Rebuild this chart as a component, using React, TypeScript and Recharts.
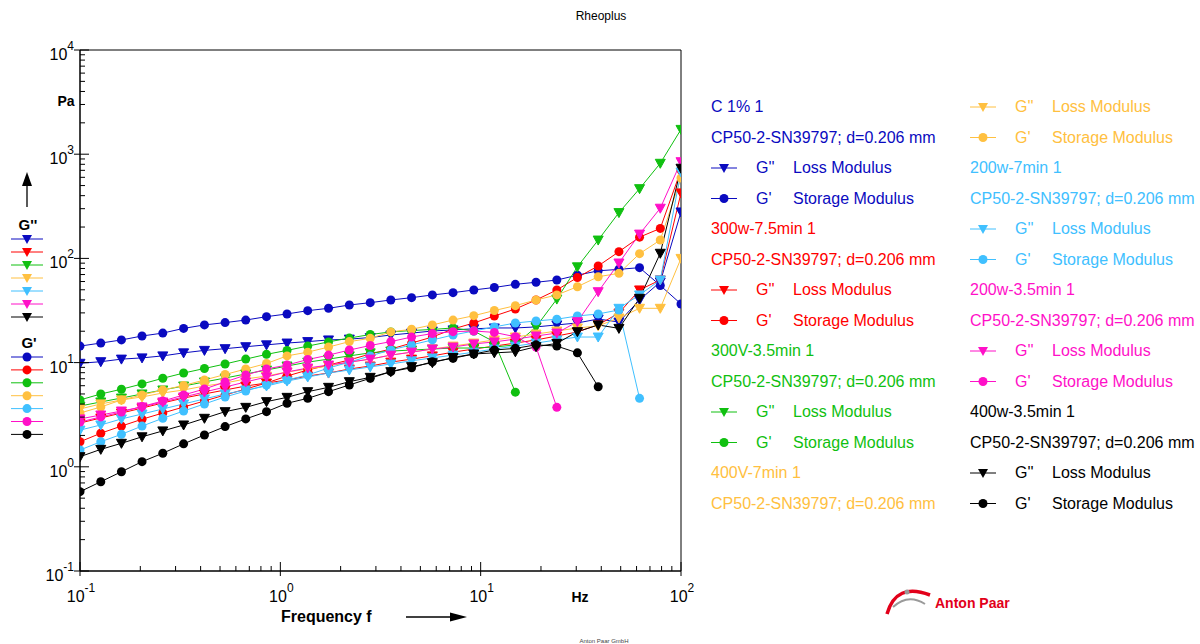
import React from "react";
import { LineChart, Line, XAxis, YAxis, ReferenceArea } from "recharts";

// frequency sweep, 30 points from 0.1 to 100 Hz
const freq = [
  0.1, 0.127, 0.161, 0.204, 0.259, 0.329, 0.418, 0.53, 0.672, 0.853,
  1.08, 1.37, 1.74, 2.21, 2.81, 3.56, 4.52, 5.74, 7.28, 9.24,
  11.7, 14.9, 18.9, 24.0, 30.4, 38.6, 49.0, 62.1, 78.8, 100,
];

// G'' loss / G' storage modulus in Pa, per sample
const blueLoss = [9.85, 10.2, 10.8, 11.1, 11.6, 12.4, 13.1, 13.6, 14.2, 14.8, 15.4, 15.9, 16.5, 16.8, 17.4, 18.4, 19.2, 20.1, 20.6, 21.1, 21.5, 21.5, 22.0, 23.0, 24.0, 26.2, 24.5, 39.9, 59.4, 279];
const blueStorage = [14.4, 15.4, 16.5, 18.0, 19.2, 21.3, 23.0, 24.2, 25.6, 27.6, 29.3, 31.5, 33.2, 35.7, 37.6, 39.9, 42.0, 44.6, 46.9, 49.8, 52.6, 56.4, 59.0, 62.0, 69.0, 76.0, 78.5, 81.5, 55.0, 36.5];

const redLoss = [2.63, 2.94, 3.28, 3.66, 4.1, 4.57, 5.0, 5.46, 5.96, 6.37, 6.81, 7.43, 7.94, 8.68, 9.27, 10.1, 10.8, 11.6, 12.6, 13.5, 14.4, 15.4, 16.5, 18.0, 19.7, 23.0, 29.9, 49.8, 62.1, 425];
const redStorage = [1.74, 2.1, 2.46, 2.86, 3.28, 3.75, 4.28, 4.89, 5.58, 6.37, 7.43, 8.49, 9.48, 10.6, 12.1, 13.5, 15.4, 17.6, 21.0, 24.0, 28.0, 32.7, 39.9, 49.8, 65.6, 84.6, 116, 160, 194, 705];

const greenLoss = [3.83, 4.19, 4.57, 5.0, 5.46, 5.96, 6.52, 7.11, 7.78, 8.49, 9.27, 10.1, 10.8, 11.6, 12.4, 12.9, 13.2, 13.5, 13.8, 13.8, 14.1, 14.8, 22.0, 40.7, 83, 150, 275, 467, 818, 1730];
const greenStorage = [4.38, 5.0, 5.55, 6.24, 7.07, 7.94, 8.78, 9.7, 10.8, 12.0, 13.1, 14.4, 15.8, 17.2, 18.6, 19.7, 20.3, 20.8, 21.5, 20.1, 15.8, 5.2, null, null, null, null, null, null, null, null];

const orangeLoss = [3.59, 4.01, 4.38, 4.68, 5.11, 5.46, 5.96, 6.37, 6.97, 7.43, 8.13, 8.68, 9.27, 10.1, 10.8, 11.8, 12.6, 13.5, 14.4, 15.4, 16.5, 17.6, 18.8, 20.1, 21.5, 22.5, 26.8, 33.2, 33.2, 100];
const orangeStorage = [3.28, 3.75, 4.38, 4.89, 5.46, 6.03, 6.81, 7.69, 8.68, 9.8, 11.6, 12.6, 14.1, 15.9, 17.1, 19.7, 20.9, 23.0, 25.6, 28.2, 31.6, 35.2, 39.9, 44.6, 53.5, 66.7, 71.9, 111, 150, 591];

const lightBlueLoss = [2.25, 2.52, 2.88, 3.21, 3.59, 4.01, 4.48, 5.0, 5.46, 5.96, 6.65, 7.27, 7.94, 8.49, 9.08, 9.7, 10.4, 11.1, 11.8, 12.6, 13.5, 14.4, 15.4, 16.5, 17.6, 17.6, 33.2, 44.6, 62.1, 675];
const lightBlueStorage = [1.45, 1.74, 2.05, 2.46, 2.92, 3.43, 4.01, 4.68, 5.34, 6.1, 6.81, 7.6, 8.87, 10.1, 11.6, 13.2, 14.8, 16.5, 18.4, 20.1, 22.0, 24.0, 25.1, 26.1, 28.0, 29.3, 32.0, 4.54, null, null];

const magentaLoss = [2.88, 3.14, 3.43, 3.75, 4.19, 4.68, 5.22, 5.83, 6.52, 7.27, 8.13, 8.87, 9.48, 10.1, 10.8, 11.8, 12.6, 13.5, 14.1, 15.1, 15.8, 16.8, 18.0, 19.2, 24.7, 47.9, 90.3, 171, 303, 847];
const magentaStorage = [2.69, 3.01, 3.36, 3.79, 4.28, 4.89, 5.58, 6.52, 7.6, 8.68, 9.48, 10.7, 11.8, 13.2, 14.6, 15.9, 17.6, 19.0, 19.8, 20.1, 19.5, 17.7, 14.1, 3.72, null, null, null, null, null, null];

const blackLoss = [1.25, 1.47, 1.68, 1.94, 2.21, 2.52, 2.92, 3.38, 3.72, 4.22, 4.64, 5.26, 5.79, 6.56, 7.22, 8.18, 9.14, 9.98, 11.2, 12.1, 12.4, 12.7, 14.2, 15.3, 19.8, 23.0, 21.3, 41.4, 112, 733];
const blackStorage = [0.577, 0.719, 0.897, 1.12, 1.35, 1.66, 2.02, 2.43, 2.88, 3.38, 4.07, 4.54, 5.26, 6.1, 7.07, 8.18, 8.93, 10.2, 11.0, 12.1, 13.2, 13.7, 14.8, 14.4, 12.4, 5.87, null, null, null, null];

const samples = [
  { name: "C 1% 1", color: "#0A0AC0", loss: blueLoss, storage: blueStorage },
  { name: "300w-7.5min 1", color: "#FF0000", loss: redLoss, storage: redStorage },
  { name: "300V-3.5min 1", color: "#10C010", loss: greenLoss, storage: greenStorage },
  { name: "400V-7min 1", color: "#FFC040", loss: orangeLoss, storage: orangeStorage },
  { name: "200w-7min 1", color: "#40C0FF", loss: lightBlueLoss, storage: lightBlueStorage },
  { name: "200w-3.5min 1", color: "#FF10C8", loss: magentaLoss, storage: magentaStorage },
  { name: "400w-3.5min 1", color: "#000000", loss: blackLoss, storage: blackStorage },
];

const probe = "CP50-2-SN39797; d=0.206 mm";

const xTicks = [
  0.1, 0.2, 0.3, 0.4, 0.5, 0.6, 0.7, 0.8, 0.9,
  1, 2, 3, 4, 5, 6, 7, 8, 9,
  10, 20, 30, 40, 50, 60, 70, 80, 90, 100,
];
const yTicks = [
  0.1, 0.2, 0.3, 0.4, 0.5, 0.6, 0.7, 0.8, 0.9,
  1, 2, 3, 4, 5, 6, 7, 8, 9,
  10, 20, 30, 40, 50, 60, 70, 80, 90,
  100, 200, 300, 400, 500, 600, 700, 800, 900,
  1000, 2000, 3000, 4000, 5000, 6000, 7000, 8000, 9000, 10000,
];

const FONT = "'Liberation Sans', Arial, sans-serif";
const LEFT = 80;
const BOTTOM = 571;

const rows = freq.map((f, i) => {
  const r: any = { f };
  samples.forEach((s, j) => {
    r["l" + j] = s.loss[i];
    r["s" + j] = s.storage[i];
  });
  return r;
});

function decade(v: number) {
  const lg = Math.log10(v);
  const e = Math.round(lg);
  return { e, major: Math.abs(lg - e) < 1e-6 };
}

function YTick(props: any) {
  const { y, payload } = props;
  const { e, major } = decade(payload.value);
  if (!major) return <line x1={LEFT} x2={LEFT + 5} y1={y} y2={y} stroke="#000" />;
  return (
    <g>
      <line x1={LEFT - 6} x2={LEFT + 9} y1={y} y2={y} stroke="#000" />
      <text x={74} y={y + 10} textAnchor="end" fontSize={16} fontFamily={FONT} fill="#000">
        <tspan>10</tspan>
        <tspan dy={-10} fontSize={12}>{e}</tspan>
      </text>
    </g>
  );
}

function XTick(props: any) {
  const { x, payload } = props;
  const { e, major } = decade(payload.value);
  if (!major) return <line x1={x} x2={x} y1={BOTTOM} y2={BOTTOM - 5} stroke="#000" />;
  return (
    <g>
      <line x1={x} x2={x} y1={BOTTOM + 5} y2={BOTTOM - 9} stroke="#000" />
      <text x={x + 1} y={602} textAnchor="middle" fontSize={16} fontFamily={FONT} fill="#000">
        <tspan>10</tspan>
        <tspan dy={-10} fontSize={12}>{e}</tspan>
      </text>
    </g>
  );
}

function triPoints(cx: number, cy: number) {
  return `${cx - 5},${cy - 4} ${cx + 5},${cy - 4} ${cx},${cy + 5}`;
}

const triDot = (color: string) => (p: any) => {
  if (p.cx == null || p.cy == null || p.value == null)
    return <g key={p.index} />;
  return <polygon key={p.index} points={triPoints(p.cx, p.cy)} fill={color} stroke={color} />;
};

const circleDot = (color: string) => (p: any) => {
  if (p.cx == null || p.cy == null || p.value == null)
    return <g key={p.index} />;
  return <circle key={p.index} cx={p.cx} cy={p.cy} r={4.5} fill={color} stroke="none" />;
};

function Marker({ kind, x, y, color, half = 13 }: any) {
  return (
    <g>
      <line x1={x - half} x2={x + half} y1={y} y2={y} stroke={color} />
      {kind === "loss" ? (
        <polygon points={triPoints(x, y)} fill={color} />
      ) : (
        <circle cx={x} cy={y} r={4.5} fill={color} />
      )}
    </g>
  );
}

function Overlay() {
  // right hand legend, 14 rows per column
  const entries: any[] = [];
  samples.forEach((s) => {
    entries.push({ type: "text", text: s.name, color: s.color });
    entries.push({ type: "text", text: probe, color: s.color });
    entries.push({ type: "loss", color: s.color });
    entries.push({ type: "storage", color: s.color });
  });

  return (
    <svg
      width={1200}
      height={644}
      style={{ position: "absolute", left: 0, top: 0, pointerEvents: "none" }}
      fontFamily={FONT}
    >
      <text x={601} y={20} textAnchor="middle" fontSize={12} fill="#000">Rheoplus</text>

      {/* y axis name and arrow */}
      <text x={66} y={106} textAnchor="middle" fontSize={14} fontWeight="bold" fill="#000">Pa</text>
      <line x1={27} x2={27} y1={207} y2={185} stroke="#000" strokeWidth={1.3} />
      <polygon points="22,186 32,186 27,172" fill="#000" />

      {/* left mini legend */}
      <text x={28} y={230} textAnchor="middle" fontSize={15} fontWeight="bold" fill="#000">G''</text>
      {samples.map((s, i) => (
        <Marker key={"ml" + i} kind="loss" x={27} y={239 + i * 13} color={s.color} half={16} />
      ))}
      <text x={29} y={348} textAnchor="middle" fontSize={15} fontWeight="bold" fill="#000">G'</text>
      {samples.map((s, i) => (
        <Marker key={"ms" + i} kind="storage" x={27} y={357 + i * 12.9} color={s.color} half={16} />
      ))}

      {/* x axis name and arrow */}
      <text x={580} y={602} textAnchor="middle" fontSize={14} fontWeight="bold" fill="#000">Hz</text>
      <text x={281} y={622} fontSize={16} fontWeight="bold" fill="#000">Frequency f</text>
      <line x1={406} x2={452} y1={617} y2={617} stroke="#000" strokeWidth={1.3} />
      <polygon points="450,612.5 450,621.5 467,617" fill="#000" />

      {entries.map((en, i) => {
        const col = i < 14 ? 0 : 1;
        const row = i % 14;
        const x0 = col === 0 ? 711 : 970;
        const y = 107 + row * 30.5;
        if (en.type === "text") {
          return (
            <text key={"e" + i} x={x0} y={y + 5} fontSize={16} fill={en.color}>{en.text}</text>
          );
        }
        return (
          <g key={"e" + i}>
            <Marker kind={en.type} x={x0 + 13} y={y} color={en.color} />
            <text x={x0 + 45} y={y + 5} fontSize={16} fill={en.color}>
              {en.type === "loss" ? "G''" : "G'"}
            </text>
            <text x={x0 + 82} y={y + 5} fontSize={16} fill={en.color}>
              {en.type === "loss" ? "Loss Modulus" : "Storage Modulus"}
            </text>
          </g>
        );
      })}

      {/* Anton Paar logo */}
      <path d="M 887 614 Q 896 582 930 595" fill="none" stroke="#E2001A" strokeWidth={3.5} />
      <path d="M 893 607 Q 908 593 925 604" fill="none" stroke="#9a9a9a" strokeWidth={2} />
      <circle cx={907} cy={592} r={2.5} fill="#9a9a9a" />
      <text x={935} y={608} fontSize={14} fontWeight="bold" fill="#E2001A">Anton Paar</text>

      <text x={604} y={643} textAnchor="middle" fontSize={6} fill="#444">Anton Paar GmbH</text>
    </svg>
  );
}

export default function App() {
  return (
    <div style={{ position: "relative", width: 1200, height: 644, background: "#fff" }}>
      <style>{"body{margin:0;}"}</style>
      <LineChart
        width={1200}
        height={644}
        data={rows}
        margin={{ top: 50, right: 519, bottom: 23, left: 0 }}
      >
        <XAxis
          dataKey="f"
          type="number"
          scale="log"
          domain={[0.1, 100]}
          ticks={xTicks}
          interval={0}
          allowDataOverflow
          height={50}
          tickLine={false}
          axisLine={{ stroke: "#000" }}
          tick={<XTick />}
        />
        <YAxis
          type="number"
          scale="log"
          domain={[0.1, 10000]}
          ticks={yTicks}
          interval={0}
          allowDataOverflow
          width={80}
          tickLine={false}
          axisLine={{ stroke: "#000" }}
          tick={<YTick />}
        />
        <ReferenceArea x1={0.1} x2={100} y1={0.1} y2={10000} fill="none" stroke="#000" strokeWidth={1} />
        {samples.flatMap((s, j) => [
          <Line
            key={"l" + j}
            type="linear"
            dataKey={"l" + j}
            stroke={s.color}
            strokeWidth={1}
            dot={triDot(s.color)}
            activeDot={false}
            isAnimationActive={false}
          />,
          <Line
            key={"s" + j}
            type="linear"
            dataKey={"s" + j}
            stroke={s.color}
            strokeWidth={1}
            dot={circleDot(s.color)}
            activeDot={false}
            isAnimationActive={false}
          />,
        ])}
      </LineChart>
      <Overlay />
    </div>
  );
}
